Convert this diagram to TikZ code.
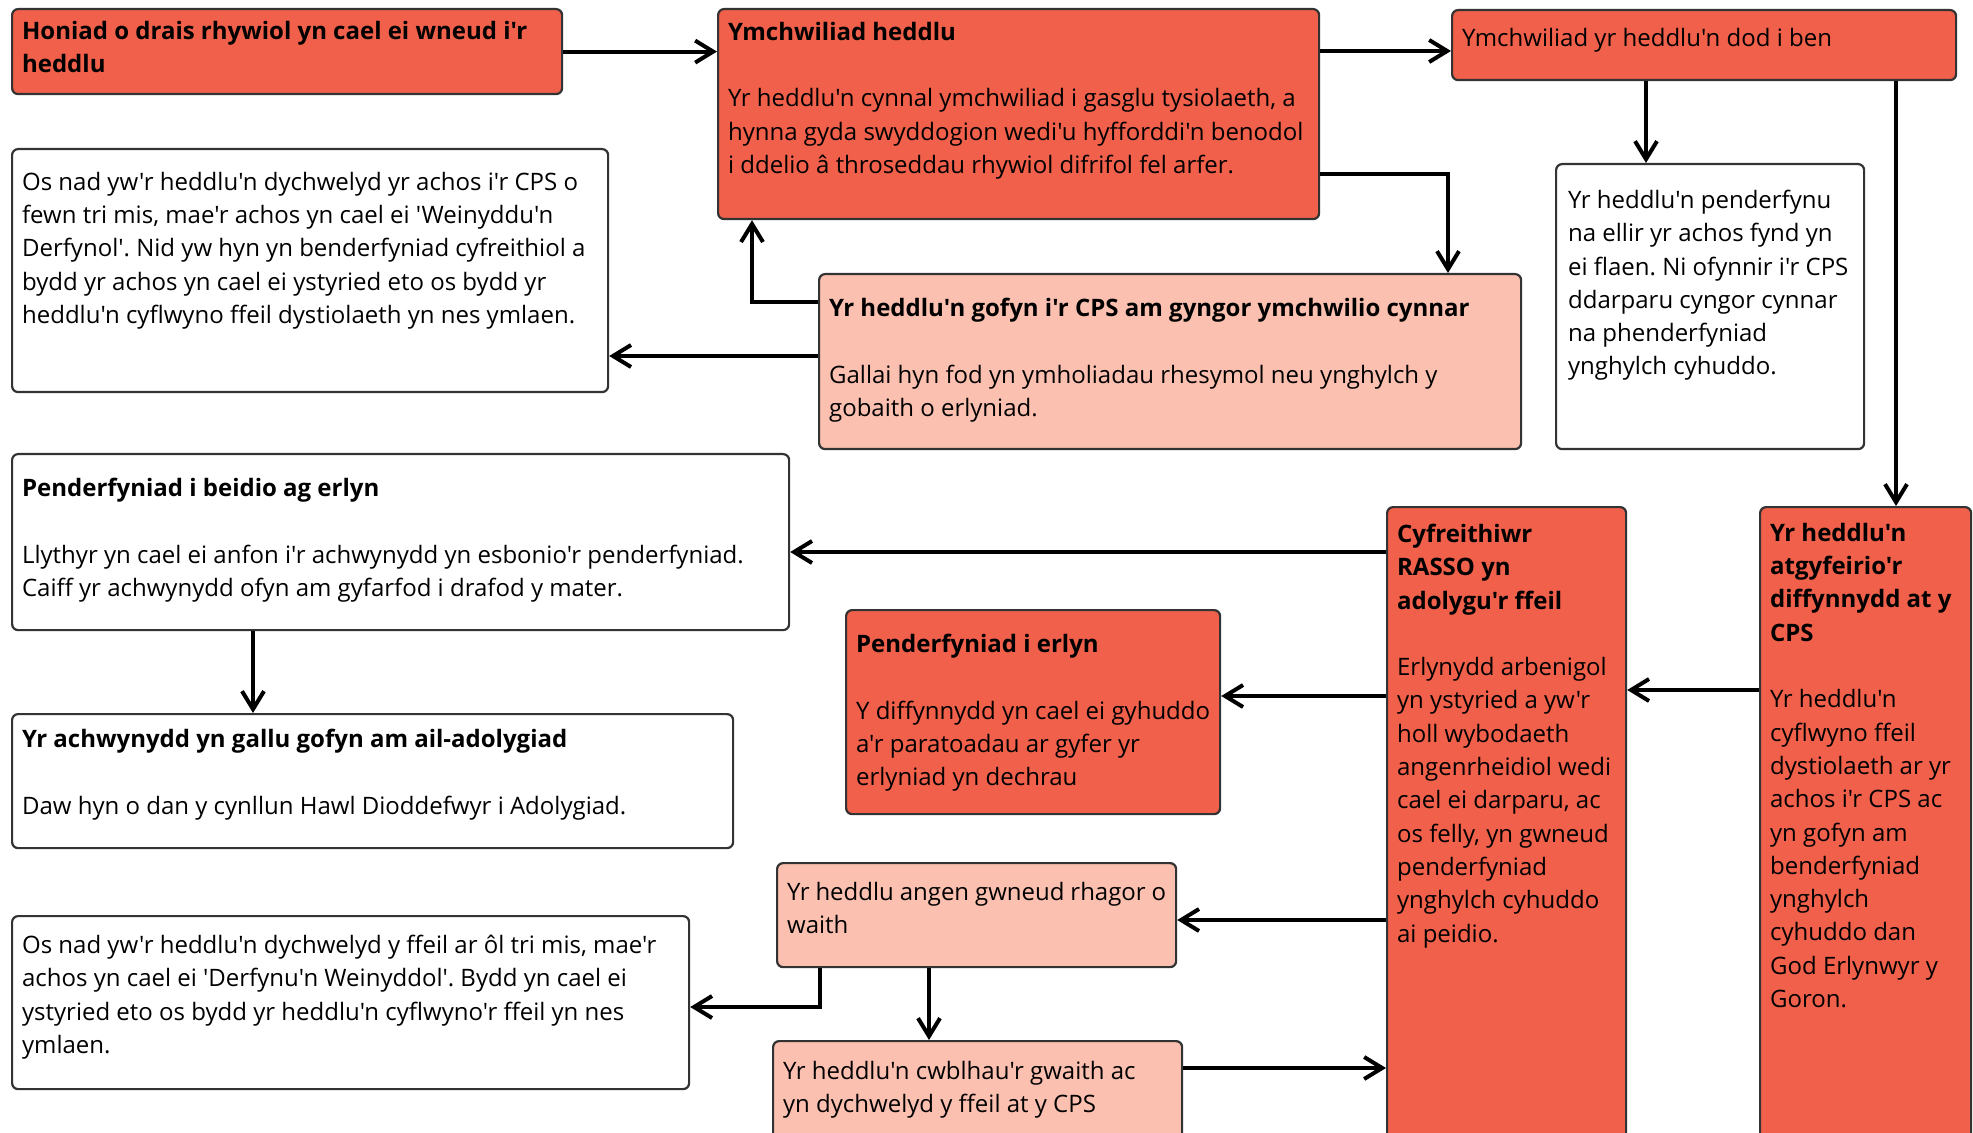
\documentclass[tikz,border=0pt]{standalone}
\usepackage{fontspec}
\newfontfamily\flowfont{Open Sans}
\usetikzlibrary{arrows.meta}
\definecolor{cpsdark}{RGB}{240,96,74}
\definecolor{cpslight}{RGB}{252,192,176}
% box text: width px, height px, top gap pt, text
\newcommand{\flowtext}[4]{\parbox[t][\dimexpr #2pt/2\relax][t]{\dimexpr #1pt/2-10pt\relax}{\raggedright\frenchspacing\vspace*{#3pt}#4}}
\tikzset{
  box/.style={draw=black!80, line width=1.1pt, rounded corners=3pt, anchor=north west,
    inner xsep=5pt, inner ysep=0pt, font=\flowfont\fontsize{12pt}{16.65pt}\selectfont},
  dark/.style={box, fill=cpsdark},
  light/.style={box, fill=cpslight},
  plain/.style={box, fill=white},
  link/.style={-{Straight Barb[length=9pt,width=11pt]}, line width=2pt},
}

\begin{document}
\begin{tikzpicture}[x=0.5pt,y=-0.5pt]
    \path[use as bounding box, clip] (0,0) rectangle (1973,1133);
    \fill[white] (0,0) rectangle (1973,1133);

    \node[dark] (honiad) at (11,8) {\flowtext{550}{85}{6}{\textbf{Honiad o drais rhywiol yn cael ei wneud i'r\\heddlu}}};
    \node[dark] (heddlu) at (717,8) {\flowtext{601}{210}{6.5}{\textbf{Ymchwiliad heddlu}\\[\baselineskip]
      Yr heddlu'n cynnal ymchwiliad i gasglu tysiolaeth, a\\hynna gyda swyddogion wedi'u hyfforddi'n benodol\\i ddelio â throseddau rhywiol difrifol fel arfer.}};
    \node[dark] (dodiben) at (1451,9) {\flowtext{504}{70}{9}{Ymchwiliad yr heddlu'n dod i ben}};
    \node[plain] (tymor1) at (11,148) {\flowtext{596}{243}{11.5}{Os nad yw'r heddlu'n dychwelyd yr achos i'r CPS o\\fewn tri mis, mae'r achos yn cael ei 'Weinyddu'n\\Derfynol'. Nid yw hyn yn benderfyniad cyfreithiol a\\bydd yr achos yn cael ei ystyried eto os bydd yr\\heddlu'n cyflwyno ffeil dystiolaeth yn nes ymlaen.}};
    \node[light] (gofyn) at (818,273) {\flowtext{702}{175}{12}{\textbf{Yr heddlu'n gofyn i'r CPS am gyngor ymchwilio cynnar}\\[\baselineskip]
      Gallai hyn fod yn ymholiadau rhesymol neu ynghylch y\\gobaith o erlyniad.}};
    \node[plain, inner xsep=6pt] (penderfynu) at (1555,163) {\flowtext{304}{285}{13}{\mbox{Yr heddlu'n penderfynu}\\\mbox{na ellir yr achos fynd yn}\\\mbox{ei flaen. Ni ofynnir i'r CPS}\\\mbox{ddarparu cyngor cynnar}\\na phenderfyniad\\ynghylch cyhuddo.}};

    \node[plain] (beidio) at (11,453) {\flowtext{777}{176}{12}{\textbf{Penderfyniad i beidio ag erlyn}\\[\baselineskip]
      Llythyr yn cael ei anfon i'r achwynydd yn esbonio'r penderfyniad.\\Caiff yr achwynydd ofyn am gyfarfod i drafod y mater.}};
    \node[plain] (achwynydd) at (11,713) {\flowtext{721}{134}{7.5}{\textbf{Yr achwynydd yn gallu gofyn am ail-adolygiad}\\[\baselineskip]
      Daw hyn o dan y cynllun Hawl Dioddefwyr i Adolygiad.}};
    \node[plain] (tymor2) at (11,915) {\flowtext{677}{173}{9.5}{Os nad yw'r heddlu'n dychwelyd y ffeil ar ôl tri mis, mae'r\\achos yn cael ei 'Derfynu'n Weinyddol'. Bydd yn cael ei\\ystyried eto os bydd yr heddlu'n cyflwyno'r ffeil yn nes\\ymlaen.}};

    \node[dark] (erlyn) at (845,609) {\flowtext{374}{204}{12}{\textbf{Penderfyniad i erlyn}\\[\baselineskip]
      Y diffynnydd yn cael ei gyhuddo\\a'r paratoadau ar gyfer yr\\erlyniad yn dechrau}};
    \node[light] (angen) at (776,862) {\flowtext{399}{104}{9.5}{Yr heddlu angen gwneud rhagor o\\waith}};
    \node[light] (cwblhau) at (772,1040) {\flowtext{409}{130}{10}{Yr heddlu'n cwblhau'r gwaith ac\\yn dychwelyd y ffeil at y CPS}};
    \node[dark] (rasso) at (1386,506) {\flowtext{239}{660}{8.5}{\textbf{Cyfreithiwr\\RASSO yn\\adolygu'r ffeil}\\[\baselineskip]
      Erlynydd arbenigol\\yn ystyried a yw'r\\holl wybodaeth\\angenrheidiol wedi\\cael ei darparu, ac\\os felly, yn gwneud\\penderfyniad\\ynghylch cyhuddo\\ai peidio.}};
    \node[dark] (atgyfeirio) at (1759,506) {\flowtext{211}{660}{8}{\textbf{Yr heddlu'n\\atgyfeirio'r\\diffynnydd at y\\CPS}\\[\baselineskip]
      Yr heddlu'n\\cyflwyno ffeil\\dystiolaeth ar yr\\achos i'r CPS ac\\yn gofyn am\\benderfyniad\\ynghylch\\cyhuddo dan\\God Erlynwyr y\\Goron.}};

    \draw[link] (honiad.east) -- (heddlu.west |- honiad.east);
    \draw[link] (heddlu.east |- 0,51) -- (dodiben.west |- 0,51);
    \draw[link] (heddlu.east |- 0,174) -| (gofyn.north -| 1448,0);
    \draw[link] (gofyn.west |- 0,302) -| (heddlu.south -| 752,0);
    \draw[link] (gofyn.west |- 0,356) -- (tymor1.east |- 0,356);
    \draw[link] (dodiben.south -| 1646,0) -- (penderfynu.north -| 1646,0);
    \draw[link] (dodiben.south -| 1896,0) -- (atgyfeirio.north -| 1896,0);
    \draw[link] (atgyfeirio.west |- 0,690) -- (rasso.east |- 0,690);
    \draw[link] (rasso.west |- 0,552) -- (beidio.east |- 0,552);
    \draw[link] (rasso.west |- 0,696) -- (erlyn.east |- 0,696);
    \draw[link] (rasso.west |- 0,920) -- (angen.east |- 0,920);
    \draw[link] (cwblhau.east |- 0,1068) -- (rasso.west |- 0,1068);
    \draw[link] (angen.south -| 929,0) -- (cwblhau.north -| 929,0);
    \draw[link] (angen.south -| 820,0) |- (tymor2.east |- 0,1007);
    \draw[link] (beidio.south -| 253,0) -- (achwynydd.north -| 253,0);
\end{tikzpicture}
\end{document}
